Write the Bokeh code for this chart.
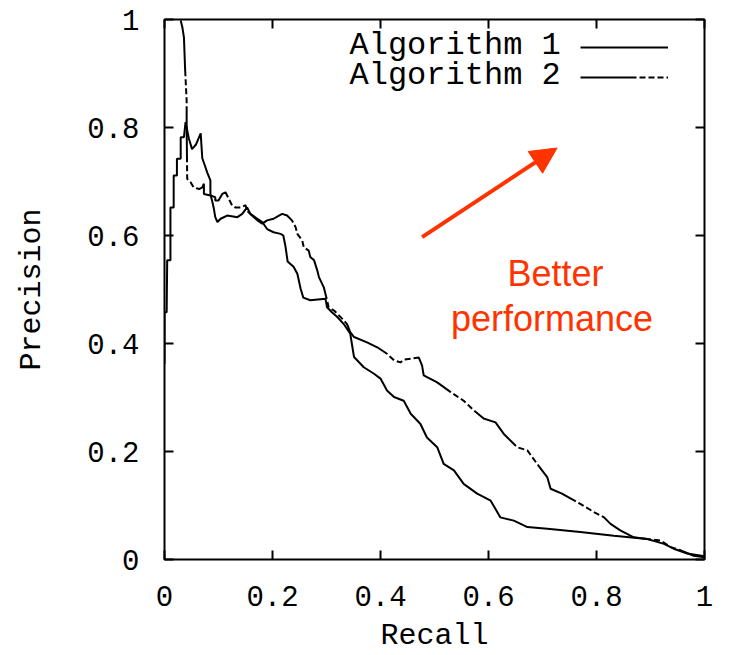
from bokeh.plotting import figure
from bokeh.models import (Range1d, LinearAxis, FixedTicker, Legend, LegendItem,
                          Label, Arrow, NormalHead)
from bokeh.core.properties import value
from bokeh.embed import file_html
from bokeh.resources import INLINE

# ---------------- data ----------------
series_names = ["Algorithm 1", "Algorithm 2"]

recall_alg1 = [0.000, 0.000, 0.004, 0.005, 0.011, 0.011, 0.017, 0.017, 0.023, 0.023,
               0.030, 0.030, 0.036, 0.039, 0.045, 0.051, 0.058, 0.067, 0.070, 0.076,
               0.079, 0.085, 0.085, 0.088, 0.091, 0.094, 0.098, 0.104, 0.116, 0.135,
               0.144, 0.153, 0.159, 0.172, 0.181, 0.190, 0.202, 0.215, 0.220, 0.224,
               0.228, 0.239, 0.246, 0.252, 0.257, 0.270, 0.298, 0.301, 0.310, 0.320,
               0.332, 0.344, 0.348, 0.351, 0.369, 0.388, 0.400, 0.412, 0.425, 0.443,
               0.456, 0.474, 0.486, 0.505, 0.517, 0.536, 0.554, 0.579, 0.604, 0.622,
               0.647, 0.672, 0.709, 0.770, 0.832, 0.894, 0.925, 0.943, 0.968, 1.000]
precision_alg1 = [0.362, 0.458, 0.458, 0.554, 0.554, 0.652, 0.652, 0.711, 0.711, 0.742,
                  0.742, 0.782, 0.782, 0.810, 0.780, 0.760, 0.768, 0.789, 0.743, 0.726,
                  0.717, 0.702, 0.677, 0.665, 0.652, 0.634, 0.625, 0.631, 0.637, 0.634,
                  0.640, 0.652, 0.640, 0.631, 0.625, 0.612, 0.606, 0.603, 0.600, 0.580,
                  0.552, 0.542, 0.529, 0.502, 0.485, 0.480, 0.483, 0.467, 0.458, 0.449,
                  0.436, 0.418, 0.393, 0.375, 0.356, 0.344, 0.335, 0.313, 0.301, 0.294,
                  0.270, 0.251, 0.226, 0.208, 0.177, 0.165, 0.140, 0.122, 0.109, 0.078,
                  0.072, 0.060, 0.057, 0.051, 0.044, 0.038, 0.029, 0.020, 0.011, 0.006]

recall_alg2 = [0.030, 0.033, 0.036, 0.038, 0.041, 0.041, 0.042, 0.048, 0.054, 0.064,
               0.070, 0.073, 0.073, 0.085, 0.094, 0.094, 0.100, 0.107, 0.113, 0.119,
               0.125, 0.131, 0.141, 0.150, 0.153, 0.162, 0.172, 0.181, 0.190, 0.202,
               0.212, 0.218, 0.227, 0.236, 0.243, 0.246, 0.255, 0.258, 0.267, 0.270,
               0.277, 0.283, 0.286, 0.295, 0.298, 0.301, 0.304, 0.314, 0.320, 0.329,
               0.338, 0.344, 0.351, 0.375, 0.394, 0.412, 0.425, 0.437, 0.443, 0.471,
               0.477, 0.480, 0.505, 0.530, 0.554, 0.573, 0.591, 0.613, 0.628, 0.653,
               0.672, 0.690, 0.709, 0.715, 0.736, 0.770, 0.795, 0.814, 0.826, 0.844,
               0.869, 0.919, 0.937, 0.956, 0.980, 1.000]
precision_alg2 = [0.998, 0.986, 0.967, 0.912, 0.850, 0.807, 0.705, 0.699, 0.689, 0.686,
                  0.689, 0.696, 0.677, 0.674, 0.671, 0.665, 0.665, 0.677, 0.680, 0.668,
                  0.656, 0.652, 0.652, 0.656, 0.646, 0.637, 0.628, 0.622, 0.628, 0.631,
                  0.637, 0.640, 0.637, 0.628, 0.615, 0.603, 0.591, 0.578, 0.572, 0.560,
                  0.554, 0.535, 0.523, 0.504, 0.492, 0.480, 0.467, 0.461, 0.455, 0.446,
                  0.436, 0.421, 0.412, 0.402, 0.393, 0.381, 0.369, 0.365, 0.370, 0.374,
                  0.359, 0.341, 0.328, 0.310, 0.294, 0.276, 0.261, 0.254, 0.233, 0.208,
                  0.202, 0.177, 0.152, 0.131, 0.122, 0.103, 0.088, 0.078, 0.066, 0.054,
                  0.041, 0.035, 0.023, 0.017, 0.007, 0.004]

tick_values = [0.0, 0.2, 0.4, 0.6, 0.8, 1.0]
tick_labels = ["0", "0.2", "0.4", "0.6", "0.8", "1"]
x_axis_title = "Recall"
y_axis_title = "Precision"
note_lines = ["Better", "performance"]

# ---------------- styles / layout ----------------
MONO = "Liberation Mono"
SANS = "Liberation Sans"
ACCENT = "#ff3300"
ALG2_DASH = "56 3 6 3 6 3 6 3"

p = figure(width=729, height=655, x_range=Range1d(0, 1), y_range=Range1d(0, 1),
           output_backend="svg", toolbar_location=None,
           min_border_left=164, min_border_right=25, min_border_top=19,
           min_border_bottom=96)
p.xgrid.visible = False
p.ygrid.visible = False
p.outline_line_color = "black"
p.outline_line_width = 2
p.background_fill_color = "white"
p.border_fill_color = "white"


def style_axis(ax, show_labels):
    ax.ticker = FixedTicker(ticks=tick_values)
    ax.major_label_overrides = dict(zip(tick_values, tick_labels))
    ax.axis_line_color = None
    ax.major_tick_in = 9
    ax.major_tick_out = 0
    ax.major_tick_line_color = "black"
    ax.major_tick_line_width = 2
    ax.minor_tick_line_color = None
    ax.major_label_text_font = MONO
    if show_labels:
        ax.major_label_text_font_size = "29px"
        ax.major_label_text_color = "black"
    else:
        ax.major_label_text_font_size = "1px"
        ax.major_label_text_color = None
        ax.major_label_standoff = 0
    ax.axis_label_text_font = MONO
    ax.axis_label_text_font_size = "30px"
    ax.axis_label_text_font_style = "normal"
    ax.axis_label_text_color = "black"


xa = p.xaxis[0]
ya = p.yaxis[0]
style_axis(xa, True)
style_axis(ya, True)
xa.axis_label = x_axis_title
ya.axis_label = y_axis_title
xa.major_label_standoff = 26
xa.axis_label_standoff = 10
ya.major_label_standoff = 25
ya.axis_label_standoff = 35

top_ax = LinearAxis()
right_ax = LinearAxis()
style_axis(top_ax, False)
style_axis(right_ax, False)
p.add_layout(top_ax, "above")
p.add_layout(right_ax, "right")

r1 = p.line(recall_alg1, precision_alg1, line_color="black", line_width=2)
r2 = p.line(recall_alg2, precision_alg2, line_color="black", line_width=2,
            line_dash=ALG2_DASH)

# legend samples (text drawn separately to their left, gnuplot style)
legend = Legend(items=[LegendItem(label=value(" "), renderers=[r1]),
                       LegendItem(label=value(" "), renderers=[r2])],
                location=(416, 472), glyph_width=88, glyph_height=20,
                label_height=20, label_width=0, label_standoff=0, spacing=10,
                padding=0, margin=0, border_line_color=None,
                background_fill_alpha=0, label_text_font_size="1px")
p.add_layout(legend)

legend_text_x = 0.3426
legend_text_y = [0.9519, 0.8963]
for name, ly in zip(series_names, legend_text_y):
    p.add_layout(Label(x=legend_text_x, y=ly, text=name, text_font=MONO,
                       text_font_size="32px", text_align="left",
                       text_baseline="middle", text_color="black"))

# annotation: arrow and note
p.add_layout(Arrow(end=NormalHead(size=26, fill_color=ACCENT, line_color=ACCENT,
                                  line_width=1),
                   x_start=0.477, y_start=0.597, x_end=0.727, y_end=0.762,
                   line_color=ACCENT, line_width=4))

note_pos = [(0.724, 0.5296), (0.7176, 0.4463)]
for txt, (nx, ny) in zip(note_lines, note_pos):
    p.add_layout(Label(x=nx, y=ny, text=txt, text_font=SANS,
                       text_font_size="36px", text_align="center",
                       text_baseline="middle", text_color=ACCENT))

open("out.html", "w").write(file_html(p, INLINE))
